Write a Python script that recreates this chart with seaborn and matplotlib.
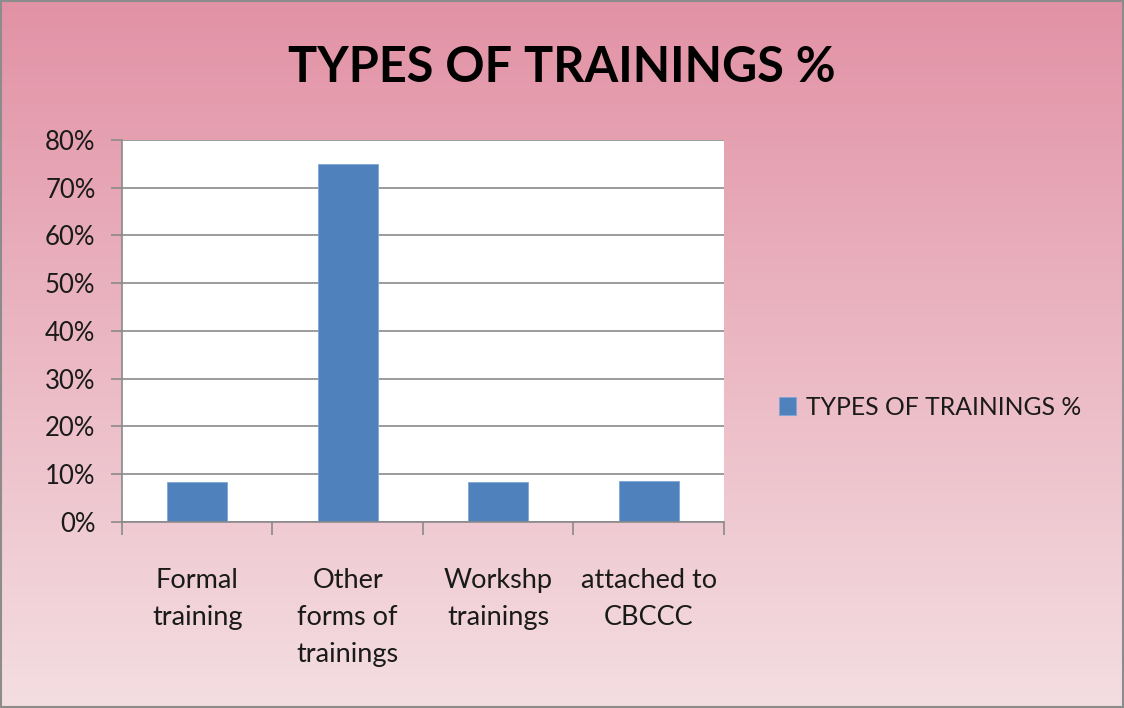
import numpy as np
import pandas as pd
import matplotlib.pyplot as plt
import seaborn as sns
from matplotlib.ticker import PercentFormatter, FixedLocator

# Chart data
categories = ['Formal\ntraining', 'Other\nforms of\ntrainings', 'Workshp\ntrainings', 'attached to\nCBCCC']
shares = [8.3, 75.0, 8.3, 8.5]
series_name = 'TYPES OF TRAININGS %'

df = pd.DataFrame({'category': categories, 'share': shares})

sns.set_theme(style='white')
plt.rcParams['font.family'] = ['Lato', 'DejaVu Sans']

fig = plt.figure(figsize=(11.24, 7.08), dpi=100)

# pink gradient background for the whole chart area
bg = fig.add_axes([0, 0, 1, 1], zorder=-10)
top_col = np.array([0xE2, 0x92, 0xA5]) / 255
bot_col = np.array([0xF4, 0xDE, 0xE2]) / 255
t = np.linspace(0, 1, 256)[:, None]
grad = top_col * (1 - t) + bot_col * t
bg.imshow(grad[:, None, :].repeat(2, axis=1), aspect='auto', extent=[0, 1, 0, 1])
bg.set_xlim(0, 1)
bg.set_ylim(0, 1)
bg.axis('off')
bg.add_patch(plt.Rectangle((0.001, 0.001), 0.998, 0.997, fill=False,
                           edgecolor='#8c8c8c', lw=1.5, transform=bg.transAxes))

ax = fig.add_axes([0.1085, 0.2627, 0.5356, 0.5396])
ax.set_facecolor('white')
sns.barplot(data=df, x='category', y='share', color='#4F81BD', width=0.4,
            saturation=1, ax=ax, label=series_name, edgecolor='#7FA6D6', linewidth=0.6)

ax.set_ylim(0, 80)
ax.set_xlim(-0.5, len(categories) - 0.5)
ax.yaxis.set_major_locator(FixedLocator(np.arange(0, 81, 10)))
ax.yaxis.set_major_formatter(PercentFormatter(decimals=0))
ax.grid(axis='y', color='#8a8a8a', lw=1.2)
ax.set_axisbelow(True)
ax.set_xlabel('')
ax.set_ylabel('')

for side in ['top', 'right']:
    ax.spines[side].set_visible(False)
ax.spines['left'].set_color('#8a8a8a')
ax.spines['bottom'].set_color('#8a8a8a')
ax.spines['left'].set_linewidth(1.2)
ax.spines['bottom'].set_linewidth(1.2)

ax.tick_params(axis='y', left=True, length=8, width=1.2, color='#8a8a8a',
               labelsize=18.5, labelcolor='#1a1a1a', pad=11)
ax.tick_params(axis='x', bottom=False, labelsize=19.5, labelcolor='#1a1a1a')
ax.set_xticklabels(categories, linespacing=1.6)

# category boundary ticks
ax.set_xticks(np.arange(-0.5, len(categories)), minor=True)
ax.tick_params(axis='x', which='minor', bottom=True, length=9, width=1.2, color='#8a8a8a')

for lbl in ax.get_xticklabels():
    lbl.set_verticalalignment('top')
ax.tick_params(axis='x', pad=27)

fig.text(0.5, 0.905, 'TYPES OF TRAININGS %', ha='center', va='center',
         fontsize=35, fontweight='bold', color='black')

leg = ax.legend(loc='center left', bbox_to_anchor=(0.673, 0.425), bbox_transform=fig.transFigure,
                frameon=False, fontsize=17.8, handlelength=0.7, handleheight=0.7,
                handletextpad=0.4)
for txt in leg.get_texts():
    txt.set_color('#1a1a1a')

fig.savefig('out.png', dpi=100)
